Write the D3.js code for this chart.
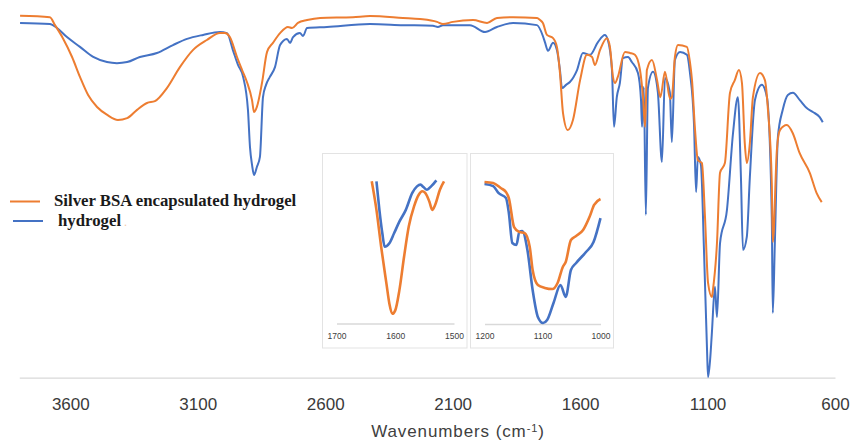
<!DOCTYPE html>
<html><head><meta charset="utf-8">
<script src="https://cdn.jsdelivr.net/npm/d3@7/dist/d3.min.js"></script>
<style>body{margin:0;background:#fff}svg{display:block}</style>
</head><body>
<svg id="chart" width="853" height="440"></svg>
<script>
// ---- Data (wavenumber cm-1, transmittance in arbitrary %) ----
const seriesNames = ["Silver BSA encapsulated hydrogel", "hydrogel"];
const xTicks = [3600, 3100, 2600, 2100, 1600, 1100, 600];
const xTitle = "Wavenumbers (cm";

const silverWN = [3797,3680,3660,3629,3593,3562,3530,3495,3455,3413,3377,3338,3299,3268,3221,3170,3119,3064,3013,2993,2974,2946,2926,2907,2887,2879,2868,2848,2828,2805,2777,2746,2730,2707,2671,2620,2491,2424,2295,2228,2161,2138,2099,2020,1965,1926,1863,1769,1757,1746,1730,1706,1691,1679,1667,1648,1628,1600,1573,1553,1542,1522,1495,1483,1471,1463,1452,1424,1404,1385,1365,1353,1345,1338,1318,1298,1285,1267,1247,1240,1228,1216,1181,1169,1161,1149,1138,1122,1110,1098,1083,1079,1063,1051,1032,1012,993,977,965,954,946,934,922,894,875,863,848,844,828,816,789,766,739,699,672,652];
const silverT  = [99.8,99.4,97.2,93.6,88.4,82.9,77.9,74.6,72.4,71.0,71.5,73.8,75.7,76.2,79.8,85.6,90.3,93.1,95.0,95.0,93.9,88.4,84.8,81.5,76.5,73.2,74.6,81.2,89.8,92.3,95.0,96.7,96.4,97.8,98.6,99.2,99.4,99.7,99.2,98.9,98.1,97.5,98.1,98.6,97.8,99.2,99.4,99.2,98.6,97.8,94.5,93.6,91.2,84.0,72.9,68.2,71.0,82.0,89.0,88.4,86.2,90.3,93.6,91.2,82.9,81.2,82.9,89.8,89.5,89.0,84.8,77.1,69.1,84.8,87.6,82.0,77.3,84.3,76.8,77.3,88.4,91.7,91.2,87.0,82.0,68.2,59.9,59.1,44.2,26.0,22.1,24.0,37.0,56.4,59.1,78.5,82.0,84.8,81.2,64.6,59.1,64.6,77.3,84.0,82.0,73.8,53.6,37.3,62.7,68.2,69.6,67.4,61.9,56.4,50.8,48.3];

const hydroWN = [3797,3680,3652,3613,3562,3510,3456,3417,3377,3327,3260,3197,3142,3079,3013,2985,2962,2942,2922,2903,2895,2887,2879,2868,2856,2844,2832,2817,2797,2777,2750,2738,2726,2699,2687,2671,2593,2424,2295,2177,2158,2138,2032,1973,1926,1863,1769,1746,1738,1726,1706,1691,1679,1671,1655,1640,1612,1589,1561,1530,1503,1491,1475,1467,1456,1444,1432,1412,1397,1373,1361,1357,1350,1342,1334,1314,1295,1279,1267,1248,1240,1228,1208,1181,1169,1153,1145,1138,1126,1114,1102,1098,1090,1083,1071,1063,1051,1024,1000,981,969,961,946,934,914,887,867,848,844,836,824,805,785,765,738,711,687,660,648];
const hydroT  = [97.8,97.5,96.4,93.9,91.2,88.4,87.0,86.7,87.0,88.4,89.5,91.7,93.4,94.5,95.3,95.0,90.3,86.2,82.9,73.8,63.5,58.6,55.8,58.0,60.8,77.3,80.7,82.9,85.6,91.7,93.4,92.3,93.9,95.0,94.2,96.4,96.7,97.5,97.2,97.0,96.7,97.2,97.2,95.3,96.7,97.8,97.2,94.2,92.5,90.1,92.3,90.3,84.8,79.8,80.7,81.5,84.8,89.5,89.0,92.5,94.5,93.1,84.8,69.1,77.3,81.2,88.1,88.4,87.0,84.0,76.5,69.1,80.1,44.8,79.8,84.3,78.7,59.4,82.6,78.7,64.9,87.6,89.8,89.0,84.0,69.6,51.1,60.8,58.6,35.1,7.5,0.0,4.7,12.2,24.9,16.6,37.0,46.1,67.4,77.3,55.2,35.1,38.7,55.2,76.5,80.7,77.3,44.2,17.7,37.0,66.3,73.8,77.9,78.5,76.5,74.3,73.2,71.8,70.4];

// Inset 1 (1700-1500 cm-1)
const inset1Ticks = [1700, 1600, 1500];
const inset1SilverWN = [1640,1632,1624,1615,1610,1605,1600,1593,1585,1577,1568,1560,1554,1549,1542,1537,1532,1524,1517];
const inset1SilverT  = [86.7,69.3,46.8,24.3,12.1,5.9,8.0,20.2,40.7,59.1,71.4,78.5,80.6,79.6,74.4,69.3,72.4,81.6,86.7];
const inset1HydroWN  = [1632,1627,1622,1618,1610,1602,1593,1582,1571,1563,1557,1552,1546,1539,1530];
const inset1HydroT   = [86.7,69.3,55.0,46.8,48.9,55.0,62.1,69.3,79.6,83.6,84.7,83.2,81.6,83.6,87.3];

// Inset 2 (1200-1000 cm-1)
const inset2Ticks = [1200, 1100, 1000];
const inset2SilverWN = [1200,1185,1172,1163,1158,1149,1140,1131,1122,1117,1108,1096,1083,1074,1065,1060,1051,1042,1030,1019,1011,1000];
const inset2SilverT  = [86.6,86.0,82.9,80.5,76.8,59.1,56.1,55.5,47.0,32.9,23.8,22.0,21.3,25.0,34.8,37.8,51.2,53.7,57.3,65.2,72.6,76.2];
const inset2HydroWN  = [1200,1185,1176,1163,1158,1152,1145,1140,1135,1126,1117,1108,1099,1092,1081,1069,1060,1051,1042,1025,1012,1000];
const inset2HydroT   = [85.4,84.1,79.9,76.8,67.7,49.4,48.2,56.1,56.7,45.1,20.7,4.3,0.6,2.4,12.8,23.8,16.5,32.9,37.2,43.9,50.0,64.6];

// ---- Drawing ----
const ORANGE = "#ED7D31", BLUE = "#4472C4";
const svg = d3.select("#chart");
const zip = (a, b) => a.map((w, i) => [w, b[i]]);

const x = d3.scaleLinear().domain([3800, 600]).range([19.3, 835]);
const y = d3.scaleLinear().domain([0, 100]).range([377, 15]);

const axisG = svg.append("g").attr("transform", "translate(0,377.7)")
  .call(d3.axisBottom(x).tickValues(xTicks).tickSize(0).tickPadding(20).tickFormat(d3.format("d")));
axisG.select(".domain").attr("stroke", "#d9d9d9").attr("stroke-width", 1.3);
axisG.selectAll("text").attr("font-family", "Liberation Sans, Arial, sans-serif")
  .attr("font-size", 17).attr("fill", "#3a3a3a");

const title = svg.append("text").attr("x", 458).attr("y", 437).attr("text-anchor", "middle")
  .attr("font-family", "Liberation Sans, Arial, sans-serif").attr("font-size", 17)
  .attr("letter-spacing", 0.9).attr("fill", "#404040");
title.append("tspan").text(xTitle);
title.append("tspan").attr("font-size", 11).attr("dy", -5).text("-1");
title.append("tspan").attr("dy", 5).text(")");

const line = d3.line().x(d => x(d[0])).y(d => y(d[1])).curve(d3.curveMonotoneX);
svg.append("path").datum(zip(hydroWN, hydroT)).attr("d", line)
  .attr("fill", "none").attr("stroke", BLUE).attr("stroke-width", 2);
svg.append("path").datum(zip(silverWN, silverT)).attr("d", line)
  .attr("fill", "none").attr("stroke", ORANGE).attr("stroke-width", 2);

// Legend
const legend = [
  {name: seriesNames[0], color: ORANGE, x1: 10, x2: 40, y: 201.5, tx: 54},
  {name: seriesNames[1], color: BLUE, x1: 13, x2: 43, y: 221, tx: 58}
];
legend.forEach(l => {
  svg.append("line").attr("x1", l.x1).attr("x2", l.x2).attr("y1", l.y).attr("y2", l.y)
    .attr("stroke", l.color).attr("stroke-width", 2);
  svg.append("text").attr("x", l.tx).attr("y", l.y + 4.5)
    .attr("font-family", "Liberation Serif, Times New Roman, serif").attr("font-weight", "bold")
    .attr("font-size", 16.8).attr("fill", "#1a1a1a").text(l.name);
});
svg.append("text").attr("x", 124).attr("y", 226).attr("font-family", "Liberation Serif, serif")
  .attr("font-size", 12).attr("fill", "#f5c9a8").text(".");

// Insets
function drawInset(box, domainX, ticks, sWN, sT, hWN, hT, axisY, lw) {
  const g = svg.append("g");
  g.append("rect").attr("x", box[0]).attr("y", box[1]).attr("width", box[2]).attr("height", box[3])
    .attr("fill", "#fff").attr("stroke", "#e3e3e3").attr("stroke-width", 1);
  const ix = d3.scaleLinear().domain(domainX).range([box[0] + 14, box[0] + box[2] - 13]);
  const iy = d3.scaleLinear().domain([0, 100]).range([axisY, axisY - 164]);
  const ag = g.append("g").attr("transform", `translate(0,${axisY})`)
    .call(d3.axisBottom(ix).tickValues(ticks).tickSize(0).tickPadding(9).tickFormat(d3.format("d")));
  ag.select(".domain").attr("stroke", "#d9d9d9").attr("stroke-width", 1.3);
  ag.selectAll("text").attr("font-family", "Liberation Sans, Arial, sans-serif")
    .attr("font-size", 8.5).attr("fill", "#404040");
  const il = d3.line().x(d => ix(d[0])).y(d => iy(d[1])).curve(d3.curveMonotoneX);
  g.append("path").datum(zip(hWN, hT)).attr("d", il).attr("fill", "none").attr("stroke", BLUE).attr("stroke-width", lw);
  g.append("path").datum(zip(sWN, sT)).attr("d", il).attr("fill", "none").attr("stroke", ORANGE).attr("stroke-width", lw);
}
drawInset([322.5, 153.5, 144.5, 194.5], [1700, 1500], inset1Ticks,
  inset1SilverWN, inset1SilverT, inset1HydroWN, inset1HydroT, 323.5, 2.6);
drawInset([470.5, 153.5, 143, 194.5], [1200, 1000], inset2Ticks,
  inset2SilverWN, inset2SilverT, inset2HydroWN, inset2HydroT, 324, 2.6);
</script>
</body></html>
